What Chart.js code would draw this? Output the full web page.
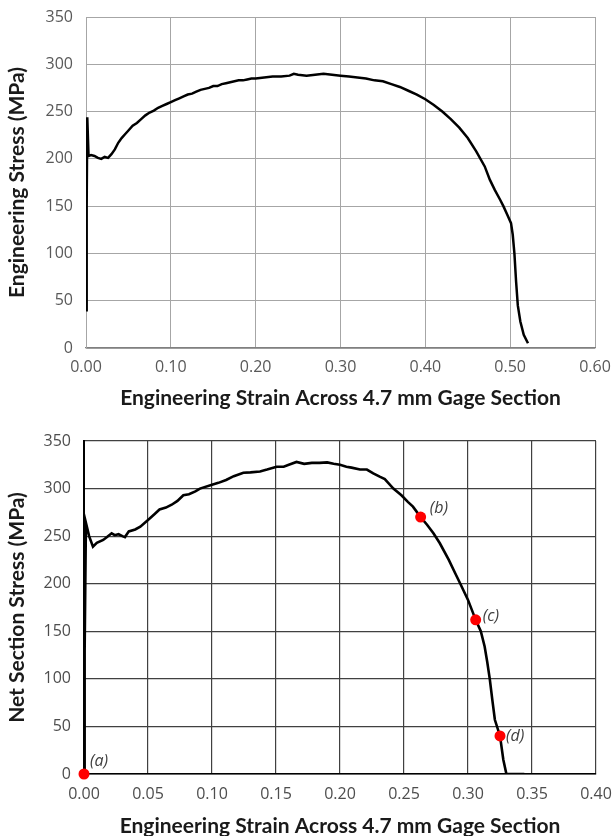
<!DOCTYPE html>
<html><head><meta charset="utf-8">
<script src="https://cdn.jsdelivr.net/npm/chart.js@4.4.0/dist/chart.umd.min.js"></script>
<style>
html,body{margin:0;padding:0;background:#fff;overflow:hidden;width:612px;height:836px}
.box{position:absolute;left:0;width:612px;height:418px}
#b1{top:0}
#b2{top:418px}
</style></head><body>
<div class="box" id="b1"><canvas id="c1"></canvas></div>
<div class="box" id="b2"><canvas id="c2"></canvas></div>
<script>
// ---- Top chart: engineering stress vs engineering strain ----
const engStrain = [0.000,0.0008,0.0015,0.003,0.006,0.010,0.014,0.018,0.022,0.026,0.030,0.034,0.038,0.042,0.046,0.050,0.055,0.060,0.065,0.070,0.075,0.080,0.085,0.090,0.095,0.100,0.105,0.110,0.115,0.120,0.125,0.130,0.135,0.140,0.145,0.150,0.155,0.160,0.165,0.170,0.175,0.180,0.185,0.190,0.195,0.200,0.210,0.220,0.230,0.240,0.245,0.250,0.260,0.270,0.280,0.290,0.300,0.310,0.320,0.330,0.340,0.350,0.360,0.370,0.380,0.390,0.400,0.410,0.420,0.430,0.440,0.450,0.460,0.470,0.476,0.482,0.488,0.492,0.497,0.501,0.503,0.505,0.507,0.509,0.512,0.516,0.521];
const engStress = [40,150,244,203,204,203,201,200,202,201,205,210,217,222,226,230,235,238,242,246,249,251,254,256,258,260,262,264,266,268,269,271,273,274,275,277,277,279,280,281,282,283,283,284,285,285,286,287,287,288,290,289,288,289,290,289,288,287,286,285,283,282,279,276,272,268,263,257,250,242,233,222,208,192,178,167,157,150,140,132,120,100,70,45,28,14,5];
const engXTicks = [0,0.1,0.2,0.3,0.4,0.5,0.6];
const engYTicks = [0,50,100,150,200,250,300,350];

// ---- Bottom chart: net section stress vs engineering strain ----
const netStrain = [0.000,0.0005,0.0015,0.004,0.007,0.010,0.015,0.018,0.0216,0.024,0.027,0.030,0.032,0.035,0.040,0.044,0.050,0.055,0.059,0.064,0.0685,0.073,0.0776,0.082,0.087,0.0906,0.100,0.105,0.111,0.117,0.1245,0.130,0.1375,0.143,0.1505,0.156,0.160,0.166,0.172,0.178,0.184,0.190,0.195,0.200,0.205,0.209,0.2156,0.221,0.226,0.231,0.235,0.2417,0.248,0.253,0.257,0.263,0.268,0.273,0.278,0.285,0.290,0.294,0.300,0.306,0.310,0.313,0.315,0.317,0.319,0.321,0.325,0.3276,0.330,0.344];
const netStress = [0,130,264,250,239,243,246,249,253,251,252,250,249,255,257,260,267,273,278,280,283,287,293,294,297,300,304,306,309,313,316.7,317,318,320,323,323,325,328,326,327,327,327.5,326,325,323,322,320,320,316,312.5,310,300,293,286,281,270,262,253,242.5,225,211,200,183,162,150,134,118,100,78,57,40,15,0,0];
const markerStrain = [0, 0.263, 0.306, 0.325];
const markerStress = [0, 270, 162, 40];
const markerLabels = ['(a)', '(b)', '(c)', '(d)'];
const netXTicks = [0,0.05,0.1,0.15,0.2,0.25,0.3,0.35,0.4];
const netYTicks = [0,50,100,150,200,250,300,350];

const TICK_FONT = {family: 'Open Sans', size: 16};
const TITLE_FONT = {family: 'Lato', size: 21, weight: 'bold'};
const LABEL_OFFSETS = [[6,-13],[9,-9],[7,-3],[6,0]];

function pts(xs, ys){ return xs.map((x,i)=>({x:x, y:ys[i]})); }

const markerLabelPlugin = {
  id: 'markerLabels',
  afterDatasetsDraw(chart){
    const idx = chart.data.datasets.findIndex(d => d.isMarkers);
    if (idx < 0) return;
    const meta = chart.getDatasetMeta(idx);
    const ctx = chart.ctx;
    ctx.save();
    ctx.font = 'italic 16px "Open Sans"';
    ctx.fillStyle = '#404040';
    ctx.textAlign = 'left';
    ctx.textBaseline = 'middle';
    meta.data.forEach((el, i) => {
      const o = LABEL_OFFSETS[i];
      ctx.fillText(markerLabels[i], el.x + o[0], el.y + o[1]);
    });
    ctx.restore();
  }
};

function makeChart(canvasId, cfg){
  return new Chart(document.getElementById(canvasId), {
    type: 'scatter',
    data: {datasets: cfg.datasets},
    plugins: [markerLabelPlugin],
    options: {
      responsive: true,
      maintainAspectRatio: false,
      animation: false,
      events: [],
      layout: {padding: cfg.padding},
      plugins: {legend: {display: false}, tooltip: {enabled: false}},
      scales: {
        x: {
          type: 'linear', min: cfg.xTicks[0], max: cfg.xTicks[cfg.xTicks.length-1],
          afterBuildTicks: s => { s.ticks = cfg.xTicks.map(v => ({value: v})); },
          afterFit: s => { s.height = cfg.xHeight; s.paddingLeft = 0; s.paddingRight = 0; },
          grid: {color: cfg.gridColor, lineWidth: cfg.gridWidth, drawTicks: false},
          border: {color: cfg.xBorder, width: cfg.xBorderWidth},
          ticks: {padding: cfg.xTickPad, color: cfg.tickColor, font: TICK_FONT, maxRotation: 0, autoSkip: false,
                  callback: v => Number(v).toFixed(2)},
          title: {display: true, text: 'Engineering Strain Across 4.7 mm Gage Section', color: '#1a1a1a',
                  font: TITLE_FONT, padding: {top: 0, bottom: cfg.xTitlePad}}
        },
        y: {
          type: 'linear', min: cfg.yTicks[0], max: cfg.yTicks[cfg.yTicks.length-1],
          afterBuildTicks: s => { s.ticks = cfg.yTicks.map(v => ({value: v})); },
          afterFit: s => { s.width = cfg.yWidth; s.paddingTop = 0; s.paddingBottom = 0; },
          grid: {color: cfg.gridColor, lineWidth: cfg.gridWidth, drawTicks: false},
          border: {color: cfg.yBorder, width: cfg.yBorderWidth},
          ticks: {padding: 13, color: cfg.tickColor, font: TICK_FONT, callback: v => String(v)},
          title: {display: true, text: cfg.yTitle, color: '#1a1a1a', font: TITLE_FONT, padding: {top: 5, bottom: 0}}
        }
      }
    }
  });
}

makeChart('c1', {
  datasets: [{
    data: pts(engStrain, engStress), showLine: true, borderColor: '#000', borderWidth: 2.5,
    pointRadius: 0, tension: 0, fill: false
  }],
  padding: {top: 17, right: 17, left: 0, bottom: 0},
  xTicks: engXTicks, yTicks: engYTicks,
  xHeight: 70, yWidth: 86, xTickPad: 10, xTitlePad: 7.4,
  gridColor: '#a6a6a6', gridWidth: 1, tickColor: '#595959',
  xBorder: '#808080', xBorderWidth: 1.2, yBorder: '#a6a6a6', yBorderWidth: 1,
  yTitle: 'Engineering Stress (MPa)'
});

makeChart('c2', {
  datasets: [{
    isMarkers: true,
    data: pts(markerStrain, markerStress), showLine: false, pointRadius: 5.5,
    pointBackgroundColor: '#ff0000', pointBorderWidth: 0, pointBorderColor: '#ff0000', clip: false, order: 0
  }, {
    data: pts(netStrain, netStress), showLine: true, borderColor: '#000', borderWidth: 2.6,
    pointRadius: 0, tension: 0, fill: false, order: 1
  }],
  padding: {top: 23, right: 16, left: 0, bottom: 0},
  xTicks: netXTicks, yTicks: netYTicks,
  xHeight: 62, yWidth: 84, xTickPad: 11, xTitlePad: -2.6,
  gridColor: '#404040', gridWidth: 1.2, tickColor: '#4d4d4d',
  xBorder: '#000', xBorderWidth: 1.6, yBorder: '#000', yBorderWidth: 2,
  yTitle: 'Net Section Stress (MPa)'
});
</script>
</body></html>
